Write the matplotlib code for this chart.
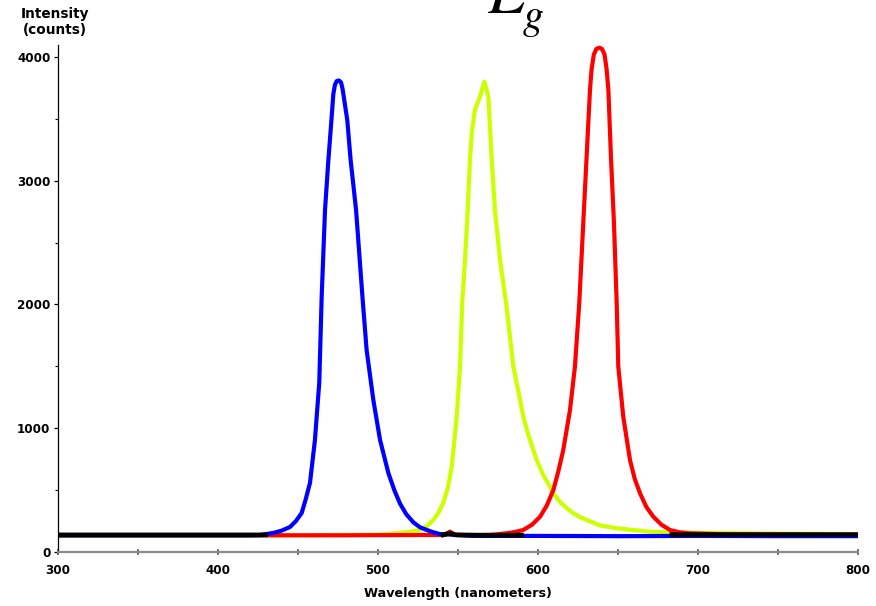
import numpy as np
import matplotlib
matplotlib.use("Agg")
import matplotlib.pyplot as plt
from matplotlib.ticker import MultipleLocator

# spectra (wavelength nm, intensity counts)
blue_nm = [300, 380, 420, 426.6, 434.9, 440.0, 445.3, 449.0, 452.6, 455.0, 457.8,
           460.9, 462.2, 463.6, 465.1, 467.2, 469.3, 470.9, 472.4, 473.4, 474.5,
           475.9, 477.2, 478.2, 481.1, 483.2, 486.6, 490.6, 493.2, 497.4, 501.6,
           506.8, 510.5, 514.1, 518.0, 522.4, 526.5, 530.8, 534.7, 539.0, 560, 600,
           650, 700, 750, 800]
blue_ct = [135, 135, 135, 137, 154, 172, 202, 250, 315, 420, 558,
           905, 1130, 1366, 2060, 2764, 3168, 3437, 3700, 3775, 3805,
           3810, 3795, 3740, 3491, 3168, 2764, 2060, 1632, 1228, 905,
           638, 500, 390, 305, 240, 200, 178, 160, 145, 130, 130,
           128, 130, 128, 128]

yellow_nm = [300, 450, 500, 514.0, 520.5, 526.6, 531.0, 534.9, 538.0, 541.1, 544.0,
             546.4, 549.5, 551.6, 552.9, 554.7, 556.4, 557.8, 558.9, 560.9, 564.1,
             566.8, 569.3, 571.4, 573.4, 576.6, 580.5, 584.9, 589.1, 591.1, 594.0,
             597.4, 599.5, 603.5, 607.8, 609.9, 614.0, 618.2, 622.4, 626.5, 630.7,
             639.0, 649.5, 660.0, 670.3, 685.0, 701.6, 750, 800]
yellow_ct = [135, 135, 140, 154, 163, 178, 210, 259, 315, 396, 520,
             689, 1093, 1498, 2000, 2360, 2764, 3168, 3386, 3572, 3680,
             3800, 3680, 3168, 2764, 2360, 2000, 1498, 1228, 1093, 960,
             824, 743, 625, 528, 474, 405, 355, 313, 283, 259,
             215, 192, 177, 164, 158, 154, 148, 145]

red_nm = [300, 420, 480, 540, 543, 545.3, 548, 560, 572.0, 580.7, 586.0, 591.1,
          596.5, 601.6, 605.8, 609.9, 613.0, 616.1, 620.3, 623.4, 626.1, 628.6,
          630.7, 632.8, 633.8, 635.2, 636.8, 638.6, 640.3, 641.9, 643.2, 644.3,
          645.9, 647.8, 649.5, 650.5, 653.6, 657.8, 660.8, 664.1, 668.0, 672.4,
          677.5, 682.8, 688.5, 695.3, 720, 800]
red_ct = [135, 135, 135, 138, 145, 165, 140, 135, 140, 151, 162, 178,
          220, 285, 375, 501, 650, 824, 1147, 1498, 2010, 2656,
          3194, 3733, 3900, 4020, 4065, 4075, 4065, 4020, 3900, 3733,
          3194, 2656, 2010, 1498, 1093, 743, 590, 474, 365, 285,
          220, 178, 160, 151, 142, 140]

# black trace, only visible where the coloured ones do not cover it
black_nm = [300, 350, 400, 430, 436, 541, 545, 549, 570, 590, 594, 684, 740, 800]
black_ct = [138, 138, 138, 138, np.nan, 138, 152, 138, 135, 136, np.nan, 140, 140, 140]

x_ticks = [300, 400, 500, 600, 700, 800]
y_ticks = [0, 1000, 2000, 3000, 4000]

plt.rcParams["mathtext.fontset"] = "stix"

fig = plt.figure(figsize=(8.76, 6.06), dpi=100)
ax = fig.add_axes([57.5 / 876, 54 / 606, 800 / 876, 507.4 / 606])

lw = 3.0
ax.plot(yellow_nm, yellow_ct, color="#ccff00", lw=lw, solid_capstyle="round")
ax.plot(red_nm, red_ct, color="#ff0000", lw=lw, solid_capstyle="round")
ax.plot(blue_nm, blue_ct, color="#0000ff", lw=lw, solid_capstyle="round")
ax.plot(black_nm, black_ct, color="#000000", lw=3.4)

ax.set_xlim(300, 800)
ax.set_ylim(0, 4100)

for s in ("top", "right"):
    ax.spines[s].set_visible(False)
ax.spines["left"].set_color("black")
ax.spines["left"].set_linewidth(0.9)
ax.spines["bottom"].set_color("#8a8a8a")
ax.spines["bottom"].set_linewidth(1.6)

ax.set_xticks(x_ticks)
ax.xaxis.set_minor_locator(MultipleLocator(50))
ax.set_yticks(y_ticks)
ax.yaxis.set_minor_locator(MultipleLocator(500))
ax.tick_params(axis="x", which="both", direction="inout", length=4, width=1.2,
               color="#555555", pad=7)
ax.tick_params(axis="y", which="major", direction="out", length=3, width=0.9, pad=2)
ax.tick_params(axis="y", which="minor", direction="out", length=2, width=0.8)
for lab in ax.get_xticklabels() + ax.get_yticklabels():
    lab.set_fontweight("bold")
    lab.set_fontsize(8.6)

fig.text(457.5 / 876, 1 - 593 / 606, "Wavelength (nanometers)", ha="center",
         va="center", fontsize=9.2, fontweight="bold")
fig.text(55 / 876, 1 - 22 / 606, "Intensity\n(counts)", ha="center", va="center",
         fontsize=9.8, fontweight="bold", linespacing=1.2)

# title, cut by the top edge as in the reference
fig.text(487 / 876, 1 - 13 / 606, "$E$", ha="left", va="baseline", fontsize=46)
fig.text(522 / 876, 1 - 28 / 606, "$g$", ha="left", va="baseline", fontsize=30)

fig.savefig("out.png", dpi=100)
